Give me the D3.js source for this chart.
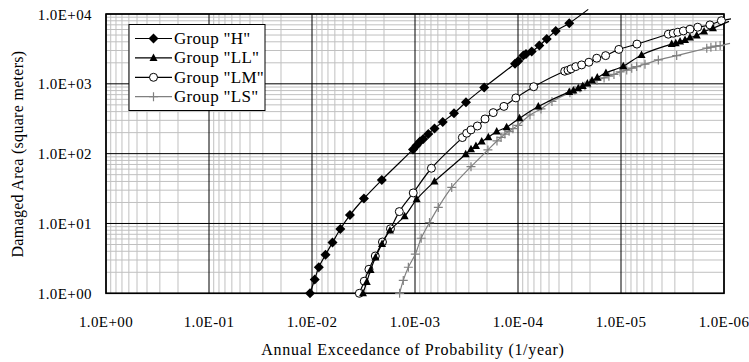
<!DOCTYPE html>
<html><head><meta charset="utf-8">
<script src="https://cdn.jsdelivr.net/npm/d3@7"></script>
<style>
body{margin:0;background:#fff;}
text{font-family:"Liberation Serif","Times New Roman",serif;fill:#000;}
</style></head>
<body><svg id="c" width="749" height="362"></svg>
<script>
const xTickLabels = ["1.0E+00","1.0E-01","1.0E-02","1.0E-03","1.0E-04","1.0E-05","1.0E-06"];
const yTickLabels = ["1.0E+00","1.0E+01","1.0E+02","1.0E+03","1.0E+04"];
const seriesNames = ['Group "H"','Group "LL"','Group "LM"','Group "LS"'];

const hX = [1.046e-2,9.41e-3,8.59e-3,7.39e-3,6.32e-3,5.31e-3,4.28e-3,3.13e-3,2.10e-3,1.046e-3,9.67e-4,8.94e-4,8.31e-4,7.43e-4,6.47e-4,5.38e-4,4.18e-4,3.20e-4,2.13e-4,1.07e-4,9.93e-5,8.88e-5,8.36e-5,7.36e-5,6.21e-5,5.26e-5,4.30e-5,3.18e-5,2.08e-5];
const hY = [1.0,1.58,2.36,3.56,5.34,8.34,13.2,22.8,42.0,115,131,149,162,191,230,285,379,545,888,1941,2129,2535,2682,2892,3526,4399,5726,7383,11640];

const llX = [3.20e-3,2.94e-3,2.70e-3,2.42e-3,2.09e-3,1.75e-3,1.26e-3,9.63e-4,6.47e-4,3.22e-4,2.86e-4,2.56e-4,2.25e-4,1.94e-4,1.61e-4,1.29e-4,9.67e-5,6.35e-5,3.18e-5,2.90e-5,2.60e-5,2.35e-5,2.12e-5,1.91e-5,1.70e-5,1.40e-5,9.50e-6,6.32e-6,3.22e-6,2.94e-6,2.67e-6,2.39e-6,2.14e-6,1.84e-6,1.56e-6,1.28e-6,8.94e-7];
const llY = [1.0,1.45,2.16,3.26,5.09,7.94,12.7,22.2,40.0,98.0,116,129,149,172,207,239,321,472,766,804,865,933,1007,1119,1227,1433,1787,2594,3705,3816,4022,4255,4590,4903,5596,6260,7834];

const lmX = [3.47e-3,3.11e-3,2.80e-3,2.43e-3,2.07e-3,1.73e-3,1.42e-3,1.04e-3,6.93e-4,3.47e-4,3.15e-4,2.86e-4,2.48e-4,2.09e-4,1.74e-4,1.37e-4,1.05e-4,7.04e-5,3.52e-5,3.27e-5,3.06e-5,2.75e-5,2.41e-5,2.05e-5,1.72e-5,1.41e-5,1.05e-5,7.00e-6,3.47e-6,3.11e-6,2.81e-6,2.48e-6,2.14e-6,1.80e-6,1.37e-6,1.06e-6,8.55e-7];
const lmY = [1.0,1.49,2.21,3.42,5.43,8.40,14.8,27.4,61.8,170,196,219,249,314,387,475,628,909,1515,1566,1635,1764,1866,2039,2327,2535,3111,3705,5135,5306,5486,5726,6056,6470,6982,8017,8509];

const lsX = [1.41e-3,1.30e-3,1.16e-3,9.93e-4,8.71e-4,7.23e-4,5.94e-4,4.40e-4,2.86e-4,1.96e-4,1.60e-4,1.46e-4,1.34e-4,1.22e-4,1.12e-4,1.00e-4,7.65e-5,5.98e-5,4.68e-5,3.13e-5,2.80e-5,2.50e-5,2.24e-5,2.00e-5,1.71e-5,1.46e-5,1.31e-5,1.17e-5,1.02e-5,8.80e-6,7.87e-6,7.04e-6,5.85e-6,4.34e-6,2.88e-6,1.47e-6,1.34e-6,1.20e-6,1.09e-6,8.74e-7];
const lsY = [1.0,1.53,2.36,3.63,6.14,10.3,17.0,32.8,65.1,113,152,171,191,209,228,254,358,437,560,748,810,874,933,1013,1119,1215,1285,1363,1481,1572,1673,1764,1909,2200,2535,3236,3344,3457,3526,3792];

const L = 106, R = 724, T = 14, B = 293.3;
const x = d3.scaleLog().domain([1, 1e-6]).range([L, R]);
const y = d3.scaleLog().domain([1, 1e4]).range([B, T]);
const svg = d3.select("#c");

// grid
const g = svg.append("g");
for (let e = 0; e > -6; e--) {
  for (let m = 2; m <= 9; m++) {
    const v = m * Math.pow(10, e - 1);
    g.append("line").attr("x1", x(v)).attr("x2", x(v)).attr("y1", T).attr("y2", B)
      .attr("stroke", "#c0c0c0").attr("stroke-width", 1);
  }
}
for (let e = 0; e < 4; e++) {
  for (let m = 2; m <= 9; m++) {
    const v = m * Math.pow(10, e);
    g.append("line").attr("x1", L).attr("x2", R).attr("y1", y(v)).attr("y2", y(v))
      .attr("stroke", "#c0c0c0").attr("stroke-width", 1);
  }
}
xTickLabels.forEach((t, i) => {
  const v = Math.pow(10, -i);
  g.append("line").attr("x1", x(v)).attr("x2", x(v)).attr("y1", T).attr("y2", B)
    .attr("stroke", "#000").attr("stroke-width", 1);
  svg.append("text").attr("x", x(v)).attr("y", 326.5).attr("text-anchor", "middle")
    .attr("font-size", 15).attr("letter-spacing", 0.4).text(t);
});
yTickLabels.forEach((t, i) => {
  const v = Math.pow(10, i);
  g.append("line").attr("x1", L).attr("x2", R).attr("y1", y(v)).attr("y2", y(v))
    .attr("stroke", "#000").attr("stroke-width", 1);
  svg.append("text").attr("x", 92).attr("y", y(v) + 5.5).attr("text-anchor", "end")
    .attr("font-size", 15).attr("letter-spacing", 0.4).text(t);
});
svg.append("rect").attr("x", L).attr("y", T).attr("width", R - L).attr("height", B - T)
  .attr("fill", "none").attr("stroke", "#000").attr("stroke-width", 1.6);

// titles
svg.append("text").attr("x", 413).attr("y", 355).attr("text-anchor", "middle")
  .attr("font-size", 16).attr("letter-spacing", 0.7).text("Annual Exceedance of Probability (1/year)");
svg.append("text").attr("transform", "translate(23,154) rotate(-90)").attr("text-anchor", "middle")
  .attr("font-size", 16).attr("letter-spacing", 0.3).text("Damaged Area (square meters)");

// series
const series = [
  {xs: hX, ys: hY, color: "#000", sym: "diamond"},
  {xs: llX, ys: llY, color: "#000", sym: "triangle"},
  {xs: lmX, ys: lmY, color: "#000", sym: "circle"},
  {xs: lsX, ys: lsY, color: "#808080", sym: "plus"}
];
const line = d3.line().x(d => x(d[0])).y(d => y(d[1])).curve(d3.curveCatmullRom.alpha(0.5));

function marker(sel, sym, color, cx, cy) {
  if (sym === "diamond") {
    sel.append("path").attr("d", `M${cx},${cy-5}L${cx+5},${cy}L${cx},${cy+5}L${cx-5},${cy}Z`).attr("fill", color);
  } else if (sym === "triangle") {
    sel.append("path").attr("d", `M${cx},${cy-4.5}L${cx+4},${cy+3}L${cx-4},${cy+3}Z`).attr("fill", color);
  } else if (sym === "circle") {
    sel.append("circle").attr("cx", cx).attr("cy", cy).attr("r", 4).attr("fill", "#fff").attr("stroke", color).attr("stroke-width", 1);
  } else {
    sel.append("path").attr("d", `M${cx-4.5},${cy}H${cx+4.5}M${cx},${cy-4.5}V${cy+4.5}`)
      .attr("stroke", color).attr("stroke-width", 1.2).attr("fill", "none");
  }
}

[...series].reverse().forEach(s => {
  const pts = s.xs.map((v, i) => [v, s.ys[i]]);
  svg.append("path").datum(pts).attr("d", line).attr("fill", "none")
    .attr("stroke", s.color).attr("stroke-width", 1.2);
  const mg = svg.append("g");
  pts.filter(p => p[0] >= 1e-6 * 0.999 && p[1] <= 1e4 * 1.001).forEach(p => marker(mg, s.sym, s.color, x(p[0]), y(p[1])));
});

// legend
const lg = svg.append("g");
lg.append("rect").attr("x", 129).attr("y", 24.5).attr("width", 136).attr("height", 86)
  .attr("fill", "#fff").attr("stroke", "#000").attr("stroke-width", 1);
seriesNames.forEach((n, i) => {
  const yy = 38.5 + i * 19.4;
  lg.append("line").attr("x1", 135).attr("x2", 172).attr("y1", yy).attr("y2", yy)
    .attr("stroke", series[i].color).attr("stroke-width", 1.2);
  marker(lg, series[i].sym, series[i].color, 153.5, yy);
  lg.append("text").attr("x", 174).attr("y", yy + 5.5).attr("font-size", 17).attr("letter-spacing", 0.3).text(n);
});
</script></body></html>
